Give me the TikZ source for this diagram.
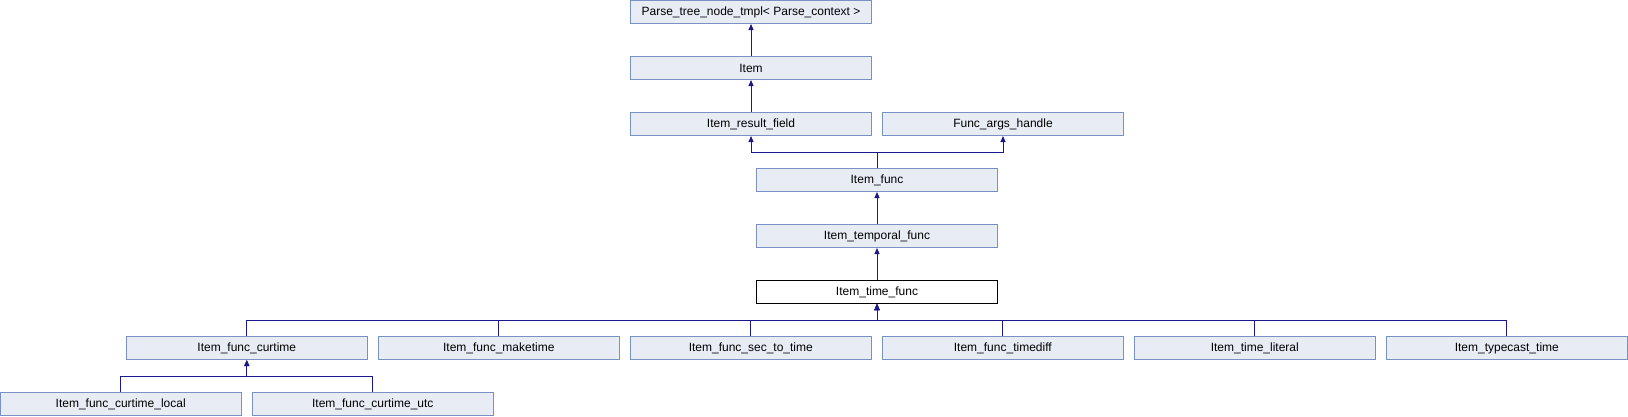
\documentclass[tikz,border=0pt]{standalone}
\usepackage{fontspec}
\setmainfont{Liberation Sans}
\usetikzlibrary{arrows.meta}
\definecolor{boxfill}{RGB}{232,236,245}
\definecolor{boxline}{RGB}{122,145,200}
\definecolor{edgecol}{RGB}{25,25,140}
\tikzset{
  cls/.style={draw=boxline, fill=boxfill, line width=1pt, rectangle, minimum width=241pt, minimum height=23pt, inner sep=0pt, font=\fontsize{12}{14}\selectfont},
  cur/.style={cls, draw=black, fill=white},
  edge/.style={draw=edgecol, line width=1pt, -{Triangle[width=5pt,length=6pt]}},
  plain/.style={draw=edgecol, line width=1pt}
}
\begin{document}
\begin{tikzpicture}[x=1pt,y=-1pt]
\useasboundingbox (0,0) rectangle (1628,416);
\node[cls] (ptn) at (751,12) {Parse\_tree\_node\_tmpl< Parse\_context >};
\node[cls] (item) at (751,68) {Item};
\node[cls] (irf) at (751,124) {Item\_result\_field};
\node[cls] (fah) at (1003,124) {Func\_args\_handle};
\node[cls] (ifn) at (877,180) {Item\_func};
\node[cls] (itf) at (877,236) {Item\_temporal\_func};
\node[cur] (tf) at (877,292) {Item\_time\_func};
\node[cls] (cur) at (246.8,348) {Item\_func\_curtime};
\node[cls] (mk) at (498.8,348) {Item\_func\_maketime};
\node[cls] (sec) at (750.8,348) {Item\_func\_sec\_to\_time};
\node[cls] (td) at (1002.8,348) {Item\_func\_timediff};
\node[cls] (lit) at (1254.8,348) {Item\_time\_literal};
\node[cls] (tc) at (1506.8,348) {Item\_typecast\_time};
\node[cls] (loc) at (120.7,404) {Item\_func\_curtime\_local};
\node[cls] (utc) at (372.8,404) {Item\_func\_curtime\_utc};
\coordinate (busA) at (0,152.3);
\coordinate (busB) at (0,320);
\coordinate (busC) at (0,376);
\draw[edge] (item.north) -- (ptn.south);
\draw[edge] (irf.north) -- (item.south);
\draw[edge] (ifn.north) |- (irf.south |- busA) -- (irf.south);
\draw[edge] (ifn.north) |- (fah.south |- busA) -- (fah.south);
\draw[edge] (itf.north) -- (ifn.south);
\draw[edge] (tf.north) -- (itf.south);
\foreach \c in {cur,mk,sec,td,lit,tc}{
  \draw[edge] (\c.north) |- (tf.south |- busB) -- (tf.south);
}
\foreach \c in {loc,utc}{
  \draw[edge] (\c.north) |- (cur.south |- busC) -- (cur.south);
}
\end{tikzpicture}
\end{document}
